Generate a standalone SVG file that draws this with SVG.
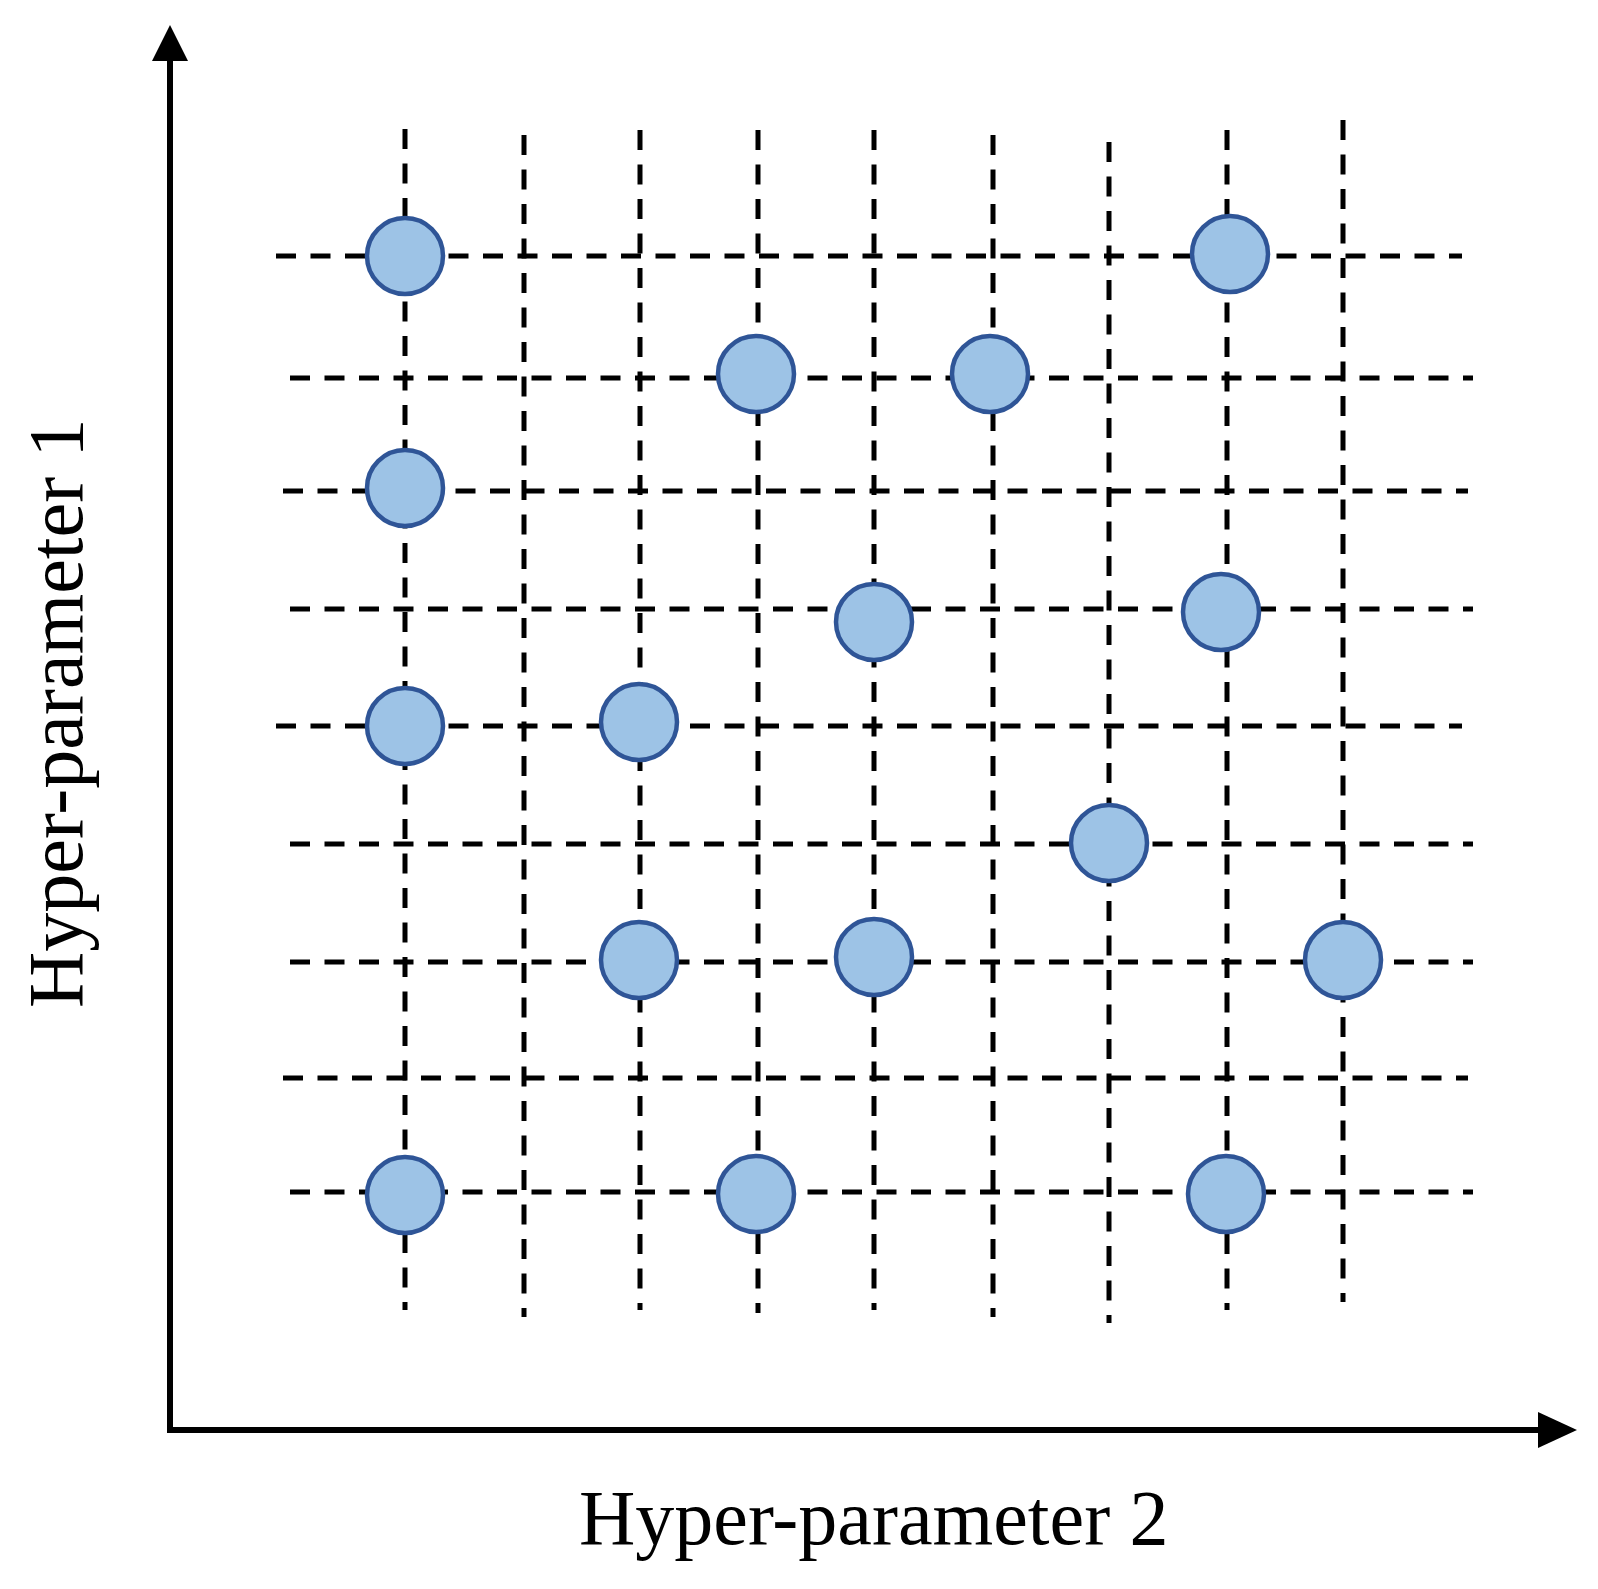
<svg xmlns="http://www.w3.org/2000/svg" width="1598" height="1589" viewBox="0 0 1598 1589">
  <style>
    .grid line { stroke: #000; stroke-width: 5; stroke-dasharray: 20 14.5; fill: none; }
    .axis { stroke: #000; stroke-width: 6; fill: none; }
    .head { fill: #000; stroke: none; }
    .pt { fill: #9DC3E6; stroke: #2F5597; stroke-width: 4.5; }
    .lbl { font-family: "Liberation Serif", "Times New Roman", serif; font-size: 78px; fill: #000; }
  </style>
  <rect width="1598" height="1589" fill="#fff"/>

  <g id="connectors">
    <g class="grid" id="grid-vertical">
      <line x1="405" y1="129" x2="405" y2="1310"/>
      <line x1="524" y1="135" x2="524" y2="1317"/>
      <line x1="640" y1="130" x2="640" y2="1310"/>
      <line x1="758" y1="130" x2="758" y2="1313"/>
      <line x1="874" y1="130" x2="874" y2="1310"/>
      <line x1="993" y1="135" x2="993" y2="1317"/>
      <line x1="1109" y1="142" x2="1109" y2="1323"/>
      <line x1="1227" y1="130" x2="1227" y2="1310"/>
      <line x1="1343" y1="120" x2="1343" y2="1302"/>
    </g>
    <g class="grid" id="grid-horizontal">
      <line x1="276" y1="256" x2="1462" y2="256"/>
      <line x1="290" y1="378" x2="1473" y2="378"/>
      <line x1="283" y1="491" x2="1468" y2="491"/>
      <line x1="290" y1="609" x2="1473" y2="609"/>
      <line x1="276" y1="726" x2="1462" y2="726"/>
      <line x1="290" y1="844" x2="1473" y2="844"/>
      <line x1="290" y1="962" x2="1473" y2="962"/>
      <line x1="283" y1="1078" x2="1468" y2="1078"/>
      <line x1="290" y1="1192" x2="1473" y2="1192"/>
    </g>
    <g id="axes">
      <path class="axis" d="M170 1430 L170 58"/>
      <polygon class="head" points="170,25 152,61 188,61"/>
      <path class="axis" d="M167 1430 L1541 1430"/>
      <polygon class="head" points="1577,1430 1538,1412 1538,1448"/>
    </g>
  </g>

  <g id="p1"><circle class="pt" cx="405" cy="256" r="38"/></g>
  <g id="p2"><circle class="pt" cx="1230" cy="254" r="38"/></g>
  <g id="p3"><circle class="pt" cx="756" cy="374" r="38"/></g>
  <g id="p4"><circle class="pt" cx="990" cy="374" r="38"/></g>
  <g id="p5"><circle class="pt" cx="405" cy="488" r="38"/></g>
  <g id="p6"><circle class="pt" cx="874" cy="622" r="38"/></g>
  <g id="p7"><circle class="pt" cx="1221" cy="612" r="38"/></g>
  <g id="p8"><circle class="pt" cx="405" cy="726" r="38"/></g>
  <g id="p9"><circle class="pt" cx="639" cy="722" r="38"/></g>
  <g id="p10"><circle class="pt" cx="1109" cy="843" r="38"/></g>
  <g id="p11"><circle class="pt" cx="639" cy="960" r="38"/></g>
  <g id="p12"><circle class="pt" cx="874" cy="957" r="38"/></g>
  <g id="p13"><circle class="pt" cx="1343" cy="960" r="38"/></g>
  <g id="p14"><circle class="pt" cx="405" cy="1195" r="38"/></g>
  <g id="p15"><circle class="pt" cx="756" cy="1194" r="38"/></g>
  <g id="p16"><circle class="pt" cx="1226" cy="1194" r="38"/></g>

  <g id="label-x"><text class="lbl" x="579" y="1544">Hyper-parameter 2</text></g>
  <g id="label-y"><text class="lbl" transform="translate(82,1008) rotate(-90)" x="0" y="0">Hyper-parameter 1</text></g>
</svg>
